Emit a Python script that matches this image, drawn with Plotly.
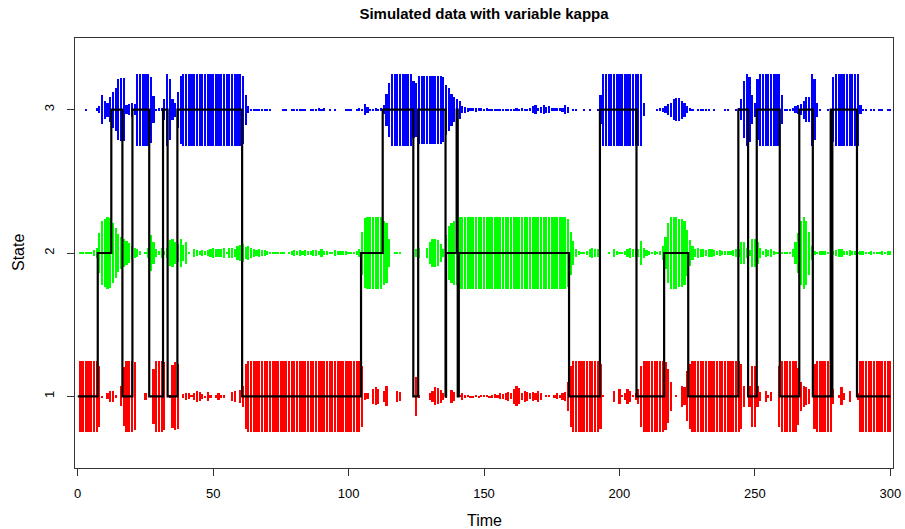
import plotly.graph_objects as go

# Posterior probability of each state at time points 1..300
p_state1 = [
    1, 1, 1, 1, 1, 1, 1, 0.85, 0.02, 0,
    0.08, 0.15, 0.15, 0.05, 0, 0.28, 0.82, 1, 1, 1,
    0.95, 0, 0, 0, 0.1, 0, 0, 0.77, 1, 1,
    1, 0.95, 0, 0.05, 0.87, 0.95, 0.9, 0, 0.06, 0.1,
    0.08, 0.03, 0.1, 0.15, 0.12, 0.07, 0.02, 0.12, 0.05, 0,
    0.05, 0.1, 0.04, 0.05, 0, 0, 0.12, 0.15, 0, 0.18,
    0.3, 0.9, 1, 1, 1, 1, 1, 1, 1, 1,
    1, 1, 1, 1, 1, 1, 1, 1, 1, 1,
    1, 1, 1, 1, 1, 1, 1, 1, 1, 1,
    1, 1, 1, 1, 1, 1, 1, 1, 1, 1,
    1, 1, 1, 1, 0.85, 0.1, 0.08, 0, 0.2, 0.25,
    0.2, 0, 0.15, 0.28, 0, 0, 0, 0.15, 0.12, 0,
    0, 0, 0, 0, 0.55, 0.05, 0, 0, 0, 0.1,
    0.15, 0.25, 0.22, 0.18, 0.1, 0.05, 0, 0.18, 0.12, 0,
    0.03, 0.1, 0.04, 0.03, 0.02, 0.02, 0.03, 0.02, 0.03, 0.03,
    0.03, 0.02, 0.04, 0.06, 0.05, 0.08, 0.07, 0.1, 0.12, 0.08,
    0.2, 0.28, 0.22, 0.1, 0.15, 0.12, 0.08, 0.12, 0.1, 0.15,
    0.1, 0, 0.03, 0.03, 0, 0.05, 0.08, 0.05, 0.1, 0.12,
    0.4, 0.85, 1, 1, 1, 1, 1, 1, 1, 1,
    1, 1, 0.9, 0.03, 0, 0, 0, 0.15, 0, 0.2,
    0.03, 0.1, 0.2, 0.15, 0.03, 0.1, 0.2, 0.85, 1, 1,
    1, 1, 1, 1, 1, 1, 0.95, 0.75, 0.4, 0,
    0.03, 0, 0.3, 0.25, 0.7, 0.9, 1, 1, 1, 1,
    1, 1, 1, 1, 1, 1, 1, 1, 1, 1,
    1, 1, 1, 1, 0.9, 0.3, 0, 0.3, 0.85, 0.85,
    0.3, 0.12, 0, 0.15, 0.05, 0.12, 0, 0, 0.85, 1,
    1, 1, 1, 1, 1, 0.8, 0.4, 0.3, 0.25, 0.2,
    0, 0.9, 1, 1, 1, 1, 1, 1, 0.2, 0,
    0.05, 0.25, 0.1, 0, 0.15, 0, 0, 0.1, 1, 1,
    1, 1, 1, 1, 1, 1, 1, 1, 1, 1,
]

p_state2 = [
    0.02, 0.02, 0.03, 0.03, 0.03, 0.08, 0.14, 0.55, 0.9, 0.95,
    1, 0.97, 0.85, 0.7, 0.52, 0.45, 0.38, 0.33, 0.28, 0.2,
    0.15, 0.1, 0.06, 0, 0.04, 0.15, 0.5, 0.3, 0.1, 0.06,
    0.15, 0.05, 0.15, 0.35, 0.38, 0.3, 0.25, 0.4, 0.22, 0.3,
    0.03, 0, 0.1, 0.08, 0.06, 0.08, 0.06, 0.08, 0.12, 0.14,
    0.12, 0.12, 0.1, 0.13, 0.03, 0.14, 0.13, 0.11, 0.2, 0.22,
    0.25, 0.17, 0.2, 0.15, 0.12, 0.08, 0.1, 0.08, 0.07, 0.06,
    0.04, 0.03, 0.02, 0.02, 0.02, 0.02, 0, 0.02, 0.05, 0.07,
    0.06, 0.08, 0.05, 0.08, 0.06, 0.05, 0.08, 0.07, 0.05, 0.12,
    0.05, 0.06, 0.04, 0.04, 0.07, 0.05, 0.05, 0.06, 0.05, 0.03,
    0.02, 0.03, 0.05, 0.12, 0.6, 0.98, 1, 1, 1, 1,
    1, 1, 0.9, 0.85, 0.4, 0, 0.03, 0.03, 0.02, 0,
    0, 0, 0, 0, 0.12, 0.15, 0, 0, 0.15, 0.3,
    0.4, 0.4, 0.35, 0.25, 0.1, 0.5, 0.75, 0.85, 0.88, 0.9,
    1, 1, 1, 1, 1, 1, 1, 1, 1, 1,
    1, 1, 1, 1, 1, 1, 1, 1, 1, 1,
    1, 1, 1, 1, 1, 1, 1, 1, 1, 1,
    1, 1, 1, 1, 1, 1, 1, 1, 1, 1,
    0.95, 0.6, 0.33, 0.1, 0.05, 0.03, 0.03, 0.05, 0.12, 0.15,
    0.12, 0.1, 0, 0, 0, 0.04, 0, 0.1, 0.06, 0.03,
    0.03, 0.05, 0.12, 0.15, 0.12, 0.1, 0.1, 0.33, 0.15, 0.08,
    0.05, 0.04, 0.05, 0.03, 0.05, 0.2, 0.45, 0.85, 1, 1,
    1, 0.95, 0.95, 0.9, 0.65, 0.35, 0.2, 0.1, 0.15, 0.1,
    0.12, 0.08, 0.1, 0.12, 0.08, 0.05, 0.08, 0.06, 0.05, 0.06,
    0.05, 0.07, 0.1, 0.1, 0.3, 0.3, 0.15, 0.08, 0.4, 0.4,
    0.3, 0.15, 0.05, 0.1, 0.08, 0.1, 0.05, 0.03, 0.02, 0.03,
    0.02, 0.03, 0.02, 0.12, 0.3, 0.55, 0.9, 1, 0.9, 0.6,
    0.2, 0.05, 0.02, 0.06, 0.05, 0.06, 0.02, 0.08, 0.06, 0.08,
    0.12, 0.12, 0.06, 0.05, 0.08, 0.06, 0.05, 0.04, 0.06, 0.05,
    0.04, 0.03, 0.05, 0.04, 0.03, 0.04, 0.05, 0.04, 0.05, 0.06,
]

p_state3 = [
    0, 0, 0.03, 0, 0, 0, 0.04, 0.1, 0.4, 0.25,
    0.2, 0.35, 0.5, 0.6, 0.85, 0.87, 0.87, 0.12, 0.15, 0.2,
    0.15, 1, 1, 1, 1, 1, 0.92, 0.38, 0.03, 0.04,
    0.04, 0.3, 1, 0.85, 0.3, 0.2, 0.5, 0.95, 1, 1,
    1, 1, 1, 1, 1, 1, 1, 1, 1, 1,
    1, 1, 1, 1, 1, 1, 1, 1, 1, 1,
    0.95, 0.42, 0.1, 0.03, 0.03, 0.02, 0.03, 0.02, 0.03, 0.02,
    0.02, 0, 0, 0, 0, 0.02, 0.02, 0, 0.02, 0.02,
    0.03, 0.02, 0.03, 0.02, 0, 0.02, 0.03, 0.02, 0.04, 0.03,
    0.04, 0, 0.03, 0, 0.02, 0, 0, 0, 0.03, 0.02,
    0.02, 0, 0.02, 0.04, 0.03, 0.15, 0.08, 0.03, 0.02, 0.04,
    0.03, 0.05, 0.12, 0.45, 0.75, 1, 1, 1, 1, 1,
    1, 1, 1, 0.8, 0.75, 0.95, 0.95, 0.95, 0.95, 0.95,
    0.95, 0.95, 0.95, 0.95, 0.9, 0.7, 0.6, 0.45, 0.35, 0.3,
    0.25, 0.1, 0.08, 0.06, 0.05, 0.05, 0.06, 0.04, 0.05, 0.03,
    0.04, 0.03, 0.03, 0.02, 0.03, 0.02, 0.03, 0.02, 0.02, 0.03,
    0.03, 0.04, 0.03, 0.05, 0.03, 0.03, 0.04, 0.1, 0.12, 0.05,
    0.08, 0.12, 0.08, 0.1, 0.05, 0.05, 0.04, 0.05, 0.06, 0.12,
    0.08, 0, 0.03, 0.02, 0, 0, 0.02, 0, 0.02, 0,
    0, 0.03, 0.4, 1, 1, 1, 1, 1, 1, 1,
    1, 1, 1, 1, 1, 1, 1, 1, 0.18, 0,
    0, 0, 0, 0.02, 0.04, 0.06, 0.1, 0.15, 0.2, 0.3,
    0.32, 0.33, 0.25, 0.2, 0.1, 0.04, 0.02, 0, 0.02, 0.02,
    0.03, 0.02, 0.02, 0, 0.02, 0, 0, 0, 0.02, 0.02,
    0, 0, 0.03, 0.05, 0.3, 0.8, 1, 0.9, 0.4, 0.2,
    0.85, 1, 1, 1, 1, 1, 1, 1, 1, 0.4,
    0.03, 0.02, 0.03, 0.05, 0.1, 0.12, 0.15, 0.25, 0.35, 0.35,
    1, 0.85, 0.2, 0.03, 0, 0, 0.02, 0.02, 0.9, 1,
    1, 1, 1, 1, 1, 1, 1, 1, 0.12, 0.02,
    0.02, 0, 0.02, 0.02, 0, 0.02, 0.02, 0, 0.02, 0.02,
]

# True (simulated) state path: times at which the state switches, and the new state
switch_times = [0, 7.4, 12.4, 16.5, 20.2, 26.4, 31.5, 33.2, 36.8,
                60.7, 104.6, 112.6, 123.9, 125.7,
                135.8, 136.0, 139.9, 140.3, 140.7,
                181.4, 192.8, 206.3, 216.5, 225.4,
                243.9, 247.5, 250.7, 259.2, 266.4,
                271.4, 278.0, 278.3, 278.6, 287.7]
switch_states = [1, 2, 3, 1, 3, 1, 3, 1, 3,
                 1, 2, 3, 1, 3,
                 1, 2, 3, 1, 2,
                 1, 3, 1, 2, 1,
                 3, 1, 3, 1, 3,
                 1, 3, 1, 3, 1]
end_time = 300

state_levels = [1, 2, 3]
state_colors = ["#FF0000", "#00FF00", "#0000FF"]
x_ticks = [0, 50, 100, 150, 200, 250, 300]

times = list(range(1, len(p_state1) + 1))
FONT = "Liberation Sans, Arial, sans-serif"

fig = go.Figure()

# Each probability is drawn as a vertical bar centred on its state level,
# with total height equal to half the probability.
for level, probs, color in zip(state_levels, [p_state1, p_state2, p_state3], state_colors):
    fig.add_trace(go.Bar(
        x=times,
        y=[p / 2 for p in probs],
        base=[level - p / 4 for p in probs],
        width=0.8,
        marker=dict(color=color, line=dict(width=0)),
        showlegend=False,
        hoverinfo="skip",
    ))

# True state path as a step line
path_x = switch_times + [end_time]
path_y = switch_states + [switch_states[-1]]
fig.add_trace(go.Scatter(
    x=path_x, y=path_y,
    mode="lines",
    line=dict(color="black", width=2.2, shape="hv"),
    showlegend=False,
    hoverinfo="skip",
))

axis_common = dict(
    showgrid=False, zeroline=False, automargin=False,
    showline=True, linecolor="#333333", linewidth=1, mirror=True,
    ticks="outside", ticklen=7, tickwidth=1, tickcolor="#333333",
    tickfont=dict(family=FONT, size=13, color="black"),
)

fig.update_layout(
    width=905, height=529,
    margin=dict(l=75, r=12, t=38, b=61, autoexpand=False),
    paper_bgcolor="white", plot_bgcolor="white",
    barmode="overlay",
    bargap=0,
    title=dict(
        text="<b>Simulated data with variable kappa</b>",
        font=dict(family=FONT, size=15, color="black"),
        x=0.5, xref="paper", xanchor="center",
        y=1 - 14 / 529, yref="container", yanchor="middle",
    ),
    xaxis=dict(range=[-1, 301], tickvals=x_ticks, ticklabelstandoff=6, **axis_common),
    yaxis=dict(range=[0.5, 3.5], tickvals=state_levels, tickangle=-90,
               ticklabelstandoff=8, **axis_common),
    annotations=[
        dict(text="Time", xref="paper", yref="paper", x=0.5, y=0,
             yshift=-52, xanchor="center", yanchor="middle", showarrow=False,
             font=dict(family=FONT, size=16, color="black")),
        dict(text="State", xref="paper", yref="paper", x=0, y=0.5,
             xshift=-57, xanchor="center", yanchor="middle", showarrow=False,
             textangle=-90, font=dict(family=FONT, size=16, color="black")),
    ],
)

fig.write_html("out.html")
